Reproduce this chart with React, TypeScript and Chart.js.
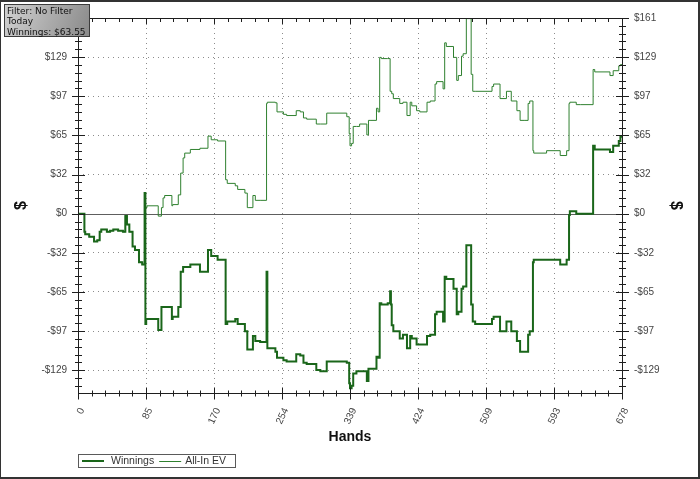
import React, { useEffect, useRef } from 'react';
import { Chart, registerables } from 'chart.js';

Chart.register(...registerables);

// ---------- data ----------
const infoLines = ['Filter: No Filter', 'Today', 'Winnings: $63.55'];
const xTitle = 'Hands';
const yTitle = '$';

const xMin = 0;
const xMax = 678;
const xTickValues = [0, 84.75, 169.5, 254.25, 339, 423.75, 508.5, 593.25, 678];
const xTickLabels = ['0', '85', '170', '254', '339', '424', '509', '593', '678'];

const yMin = -148;
const yMax = 161.5;
const yTickValues = [-129.2, -96.9, -64.6, -32.3, 0, 32.3, 64.6, 96.9, 129.2, 161.5];
const yTickLabels = ['-$129', '-$97', '-$65', '-$32', '$0', '$32', '$65', '$97', '$129', '$161'];

const winningsHands = [
  0, 8, 9, 14, 20, 24, 27, 29, 36, 40,
  44, 50, 56, 59, 61, 64, 68, 71, 76, 80,
  83, 84, 85, 100, 104, 107, 117, 118, 125, 128,
  131, 140, 152, 162, 166, 174, 184, 186, 196, 199,
  208, 211, 213, 218, 221, 227, 235, 236, 237, 246,
  248, 256, 260, 272, 277, 281, 285, 297, 302, 310,
  314, 335, 338, 339, 341, 343, 347, 351, 360, 362,
  364, 372, 374, 376, 378, 386, 389, 390, 391, 393,
  401, 405, 410, 414, 416, 422, 426, 435, 439, 445,
  447, 455, 457, 459, 468, 472, 474, 478, 480, 484,
  486, 490, 492, 495, 516, 518, 526, 534, 540, 547,
  551, 557, 561, 563, 567, 568, 584, 601, 609, 612,
  613, 621, 626, 642, 644, 663, 667, 674, 676, 678,
];
const winningsValues = [
  0, 0, -15, -17, -19, -23, -22, -15, -13, -15,
  -14, -13, -14, -15, -2, -9, -15, -27, -30, -40,
  -42, 17, -91, -87, -96, -77, -77, -87, -85, -77,
  -48, -44, -42, -48, -30, -35, -38, -91, -89, -87,
  -91, -97, -112, -112, -101, -105, -106, -48, -111, -111,
  -114, -119, -121, -122, -116, -117, -123, -124, -129, -130,
  -122, -122, -123, -140, -144, -142, -132, -130, -130, -138,
  -128, -128, -118, -119, -74, -75, -74, -64, -75, -92,
  -97, -103, -100, -111, -101, -103, -108, -108, -101, -100,
  -83, -81, -89, -52, -54, -62, -83, -81, -62, -60,
  -26, -26, -75, -89, -91, -87, -85, -97, -89, -97,
  -105, -114, -114, -100, -97, -40, -38, -38, -42, -38,
  -1, 2, 0, 0, 56, 53, 51, 56, 60, 63.55,
];

const evHands = [
  0, 8, 9, 14, 20, 24, 27, 29, 36, 40,
  44, 50, 56, 59, 61, 64, 68, 71, 76, 80,
  83, 84, 86, 100, 104, 106, 108, 117, 118, 125,
  128, 131, 133, 140, 152, 162, 166, 174, 184, 186,
  196, 199, 208, 211, 213, 218, 221, 227, 235, 236,
  246, 248, 256, 260, 272, 277, 281, 285, 297, 302,
  310, 314, 335, 338, 339, 341, 343, 347, 351, 360,
  362, 364, 372, 374, 376, 378, 386, 389, 391, 393,
  401, 405, 410, 414, 416, 422, 426, 435, 439, 445,
  447, 455, 457, 459, 468, 472, 474, 478, 480, 484,
  486, 490, 492, 495, 516, 518, 526, 534, 540, 547,
  551, 557, 561, 563, 567, 568, 584, 601, 609, 612,
  613, 621, 626, 642, 644, 663, 667, 674, 676, 678,
];
const evValues = [
  0, 0, -15, -17, -19, -23, -22, -15, -13, -15,
  -14, -13, -14, -15, -2, -9, -15, -27, -30, -40,
  -42, 4, 5, 6.5, -2, 5, 13, 15, 6.5, 7.5,
  15.5, 33.5, 46, 50, 53, 54, 64, 61, 60, 28,
  25, 23, 20, 17, 5, 5, 15, 11, 11, 91,
  92, 91.5, 84, 82, 81, 85, 84, 79, 78, 74,
  74, 83, 83, 80, 66, 56, 58, 72, 72, 74,
  65, 77, 77, 87, 84, 129, 128, 128, 101, 99,
  95, 91, 92, 81, 92, 89, 85, 84, 92, 93,
  107, 109, 103, 141, 138, 129, 110, 114, 130, 132,
  161, 161, 115, 101, 101, 105, 107, 95, 101, 93,
  85, 77, 77, 91, 93, 52, 50, 52, 48, 52,
  91, 92, 90, 90, 119, 117, 114, 118, 122, 123,
];

// ---------- styling ----------
const FONT = "'Liberation Sans', Arial, sans-serif";
const WIN_COLOR = '#1a661a';
const EV_COLOR = '#2f802f';
const GRID_COLOR = '#8c8c8c';

const crisp = (v: number) => Math.round(v) + 0.5;

const decorPlugin = {
  id: 'decor',
  beforeDraw(chart: any) {
    const { ctx, width, height } = chart;
    ctx.save();
    ctx.fillStyle = '#ffffff';
    ctx.fillRect(0, 0, width, height);
    ctx.restore();
  },
  beforeDatasetsDraw(chart: any) {
    const { ctx, chartArea: a, scales } = chart;
    const y0 = crisp(scales.y.getPixelForValue(0));
    ctx.save();
    ctx.strokeStyle = '#5e5e5e';
    ctx.lineWidth = 1;
    ctx.beginPath();
    ctx.moveTo(a.left, y0);
    ctx.lineTo(a.right, y0);
    ctx.stroke();
    ctx.restore();
  },
  afterDraw(chart: any) {
    const { ctx, chartArea: a, scales, width, height } = chart;
    const xs = scales.x;
    const ys = scales.y;
    const L = crisp(a.left), R = crisp(a.right), T = crisp(a.top), B = crisp(a.bottom);
    ctx.save();
    ctx.strokeStyle = '#1e1e1e';
    ctx.lineWidth = 1;
    ctx.strokeRect(L, T, R - L, B - T);

    const seg = (x1: number, y1: number, x2: number, y2: number) => {
      ctx.beginPath();
      ctx.moveTo(x1, y1);
      ctx.lineTo(x2, y2);
      ctx.stroke();
    };

    // x ticks (major + minor), bottom crossing, top inside
    const xStep = (xTickValues[1] - xTickValues[0]) / 5;
    const nx = Math.round((xMax - xMin) / xStep);
    for (let i = 0; i <= nx; i++) {
      const px = crisp(xs.getPixelForValue(xMin + i * xStep));
      const major = i % 5 === 0;
      const len = major ? 6 : 3;
      seg(px, B - len, px, B + len);
      seg(px, T, px, T + (major ? 6 : 3.5));
    }
    // y ticks, left & right crossing
    const yStep = (yTickValues[1] - yTickValues[0]) / 5;
    const k0 = Math.ceil(yMin / yStep - 1e-6);
    const k1 = Math.floor(yMax / yStep + 1e-6);
    for (let k = k0; k <= k1; k++) {
      const py = crisp(ys.getPixelForValue(k * yStep));
      const major = k % 5 === 0;
      const len = major ? 6.5 : 3.5;
      seg(L - len, py, L + len, py);
      seg(R - len, py, R + len, py);
    }

    // legend
    const ds = chart.data.datasets;
    const lx = a.left, ly = 454, lh = 13;
    const cy = ly + lh / 2;
    ctx.font = `10.5px ${FONT}`;
    ctx.textBaseline = 'middle';
    ctx.textAlign = 'left';
    const gaps = [[4, 22, 7], [5, 22, 4]];
    let cx = lx;
    const items: any[] = [];
    ds.forEach((d: any, i: number) => {
      const g = gaps[i] || gaps[1];
      const x1 = cx + g[0];
      const x2 = x1 + g[1];
      const tx = x2 + g[2];
      const tw = ctx.measureText(d.label).width;
      items.push({ d, x1, x2, tx });
      cx = tx + tw;
    });
    const lw = cx + 9 - lx;
    ctx.fillStyle = '#ffffff';
    ctx.fillRect(lx, ly, lw, lh);
    ctx.strokeStyle = '#5a5a5a';
    ctx.lineWidth = 1;
    ctx.strokeRect(crisp(lx), crisp(ly), Math.round(lw), lh);
    items.forEach(({ d, x1, x2, tx }) => {
      ctx.strokeStyle = d.borderColor;
      ctx.lineWidth = d.borderWidth;
      ctx.beginPath();
      ctx.moveTo(x1, d.borderWidth === 1 ? crisp(cy) : Math.round(cy));
      ctx.lineTo(x2, d.borderWidth === 1 ? crisp(cy) : Math.round(cy));
      ctx.stroke();
      ctx.fillStyle = '#333333';
      ctx.fillText(d.label, tx, cy + 0.5);
    });

    // info box
    const bx = 4, by = 4, bw = 85, bh = 32;
    const grad = ctx.createLinearGradient(bx, by, bx + bw, by + bh);
    grad.addColorStop(0, '#d2d2d2');
    grad.addColorStop(1, '#8a8a8a');
    ctx.fillStyle = grad;
    ctx.fillRect(bx, by, bw, bh);
    ctx.strokeStyle = '#3c3c3c';
    ctx.lineWidth = 1;
    ctx.strokeRect(bx + 0.5, by + 0.5, bw, bh);
    ctx.fillStyle = '#111111';
    ctx.font = "9px 'DejaVu Sans', sans-serif";
    ctx.textBaseline = 'alphabetic';
    infoLines.forEach((t, i) => ctx.fillText(t, 7, 13.5 + i * 10.5));

    // outer border
    ctx.fillStyle = '#333333';
    ctx.fillRect(0, 0, width, 2);
    ctx.fillRect(width - 2, 0, 2, height);
    ctx.fillRect(0, height - 2, width, 2);
    ctx.fillRect(0, 0, 1, height);
    ctx.restore();
  },
};

const yTickIndex = (v: number) => yTickValues.findIndex((t) => Math.abs(t - v) < 1e-6);
const xTickIndex = (v: number) => xTickValues.findIndex((t) => Math.abs(t - v) < 1e-6);

export default function App() {
  const ref = useRef<HTMLCanvasElement>(null);

  useEffect(() => {
    if (!ref.current) return;
    Chart.defaults.font.family = FONT;
    const gridColor = (hide: number[]) => (c: any) =>
      c.tick && hide.some((h) => Math.abs(h - c.tick.value) < 1e-6) ? 'rgba(0,0,0,0)' : GRID_COLOR;

    const chart = new Chart(ref.current, {
      type: 'line',
      data: {
        datasets: [
          {
            label: 'Winnings',
            data: winningsHands.map((h, i) => ({ x: h, y: winningsValues[i] })),
            borderColor: WIN_COLOR,
            backgroundColor: WIN_COLOR,
            borderWidth: 2,
            pointRadius: 0,
            stepped: 'after',
            yAxisID: 'y',
          },
          {
            label: 'All-In EV',
            data: evHands.map((h, i) => ({ x: h, y: evValues[i] })),
            borderColor: EV_COLOR,
            backgroundColor: EV_COLOR,
            borderWidth: 1,
            pointRadius: 0,
            stepped: 'after',
            yAxisID: 'y',
          },
        ],
      },
      options: {
        animation: false,
        responsive: false,
        events: [],
        layout: { padding: { top: 13, left: 0, right: 0, bottom: 0 } },
        plugins: { legend: { display: false }, tooltip: { enabled: false }, title: { display: false } },
        scales: {
          x: {
            type: 'linear',
            min: xMin,
            max: xMax,
            afterBuildTicks: (s: any) => {
              s.ticks = xTickValues.map((v) => ({ value: v }));
            },
            afterFit: (s: any) => {
              s.height = 86;
            },
            ticks: {
              autoSkip: false,
              minRotation: 65,
              maxRotation: 65,
              padding: 13,
              labelOffset: 4,
              color: '#444444',
              font: { size: 10, family: FONT },
              callback: (v: any) => xTickLabels[xTickIndex(Number(v))] ?? '',
            },
            grid: { color: gridColor([xMin, xMax]), drawTicks: false, lineWidth: 1 },
            border: { display: false, dash: [1, 4] },
            title: {
              display: true,
              text: xTitle,
              color: '#111111',
              font: { size: 14, weight: 'bold', family: FONT },
              padding: { top: 0, bottom: 33 },
            },
          },
          y: {
            type: 'linear',
            position: 'left',
            min: yMin,
            max: yMax,
            afterBuildTicks: (s: any) => {
              s.ticks = yTickValues.map((v) => ({ value: v }));
            },
            afterFit: (s: any) => {
              s.width = 78;
            },
            ticks: {
              padding: 11,
              color: '#444444',
              font: { size: 10, family: FONT },
              callback: (v: any) => yTickLabels[yTickIndex(Number(v))] ?? '',
            },
            grid: { color: gridColor([0, yMax]), drawTicks: false, lineWidth: 1 },
            border: { display: false, dash: [1, 4] },
            title: {
              display: true,
              text: yTitle,
              color: '#111111',
              font: { size: 16, weight: 'bold', family: FONT },
              padding: { top: 12, bottom: 0 },
            },
          },
          y2: {
            type: 'linear',
            position: 'right',
            min: yMin,
            max: yMax,
            afterBuildTicks: (s: any) => {
              s.ticks = yTickValues.map((v) => ({ value: v }));
            },
            afterFit: (s: any) => {
              s.width = 78;
            },
            ticks: {
              padding: 12,
              color: '#444444',
              font: { size: 10, family: FONT },
              callback: (v: any) => yTickLabels[yTickIndex(Number(v))] ?? '',
            },
            grid: { display: false, drawTicks: false },
            border: { display: false },
            title: {
              display: true,
              text: yTitle,
              color: '#111111',
              font: { size: 16, weight: 'bold', family: FONT },
              padding: { top: 15, bottom: 0 },
            },
          },
        },
      } as any,
      plugins: [decorPlugin],
    });
    return () => chart.destroy();
  }, []);

  return (
    <div style={{ position: 'absolute', left: 0, top: 0, width: 700, height: 479 }}>
      <canvas ref={ref} width={700} height={479} style={{ display: 'block', width: 700, height: 479 }} />
    </div>
  );
}
